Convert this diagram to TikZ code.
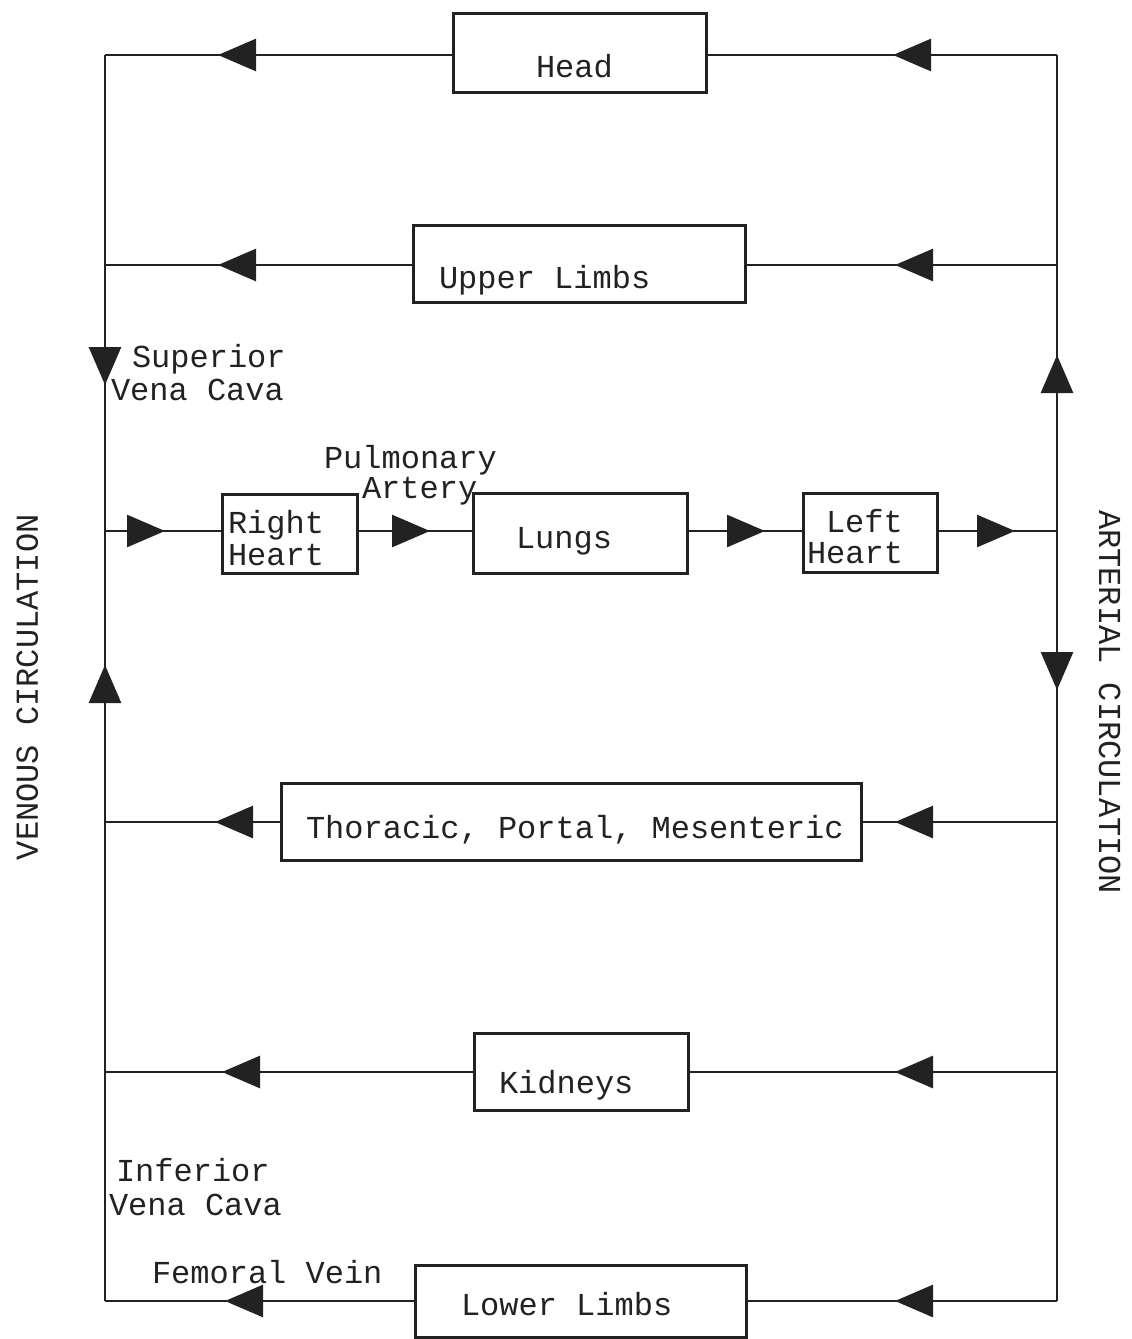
\documentclass[tikz,border=0pt]{standalone}
\usepackage{fontspec}
\setmainfont{Liberation Mono}
\usetikzlibrary{arrows.meta,decorations.markings}
\definecolor{ink}{HTML}{222222}
\tikzset{
  lbl/.style={inner sep=0pt, outer sep=0pt, anchor=base west, text=ink,
              font=\fontsize{16pt}{16pt}\selectfont},
  organ/.style={draw=ink, line width=1.5pt, inner sep=0pt, outer sep=0pt, rectangle},
  vessel/.style={draw=ink, line width=1.35pt},
  arr/.style={postaction={decorate, decoration={markings,
      mark=at position #1 with {\arrow[ink]{Triangle[length=19pt,width=16pt]}}}}},
}
\begin{document}
\begin{tikzpicture}[x=0.5pt,y=-0.5pt]
\useasboundingbox (0,0) rectangle (1131,1339);

% organ boxes
\node[organ, minimum width=126.5pt, minimum height=39.5pt] (head)  at (579.5,52.5) {};
\node[organ, minimum width=166pt,   minimum height=38.5pt] (ul)    at (579,263.5) {};
\node[organ, minimum width=67.5pt,  minimum height=39.5pt] (rh)    at (289.5,533.5) {};
\node[organ, minimum width=107pt,   minimum height=40pt]   (lungs) at (580,533) {};
\node[organ, minimum width=67pt,    minimum height=39.5pt] (lh)    at (870,532.5) {};
\node[organ, minimum width=290pt,   minimum height=38.5pt] (th)    at (571,821.5) {};
\node[organ, minimum width=107pt,   minimum height=38.5pt] (kid)   at (581,1071.5) {};
\node[organ, minimum width=165.5pt, minimum height=36pt]   (ll)    at (580.5,1301) {};

% junctions on the two trunks
\coordinate (L1) at (105,55);   \coordinate (R1) at (1057,55);
\coordinate (L2) at (105,265);  \coordinate (R2) at (1057,265);
\coordinate (Lm) at (105,531);  \coordinate (Rm) at (1057,531);
\coordinate (L3) at (105,822);  \coordinate (R3) at (1057,822);
\coordinate (L4) at (105,1072); \coordinate (R4) at (1057,1072);
\coordinate (L5) at (105,1301); \coordinate (R5) at (1057,1301);

% trunks
\draw[vessel, arr=165pt]   (L1) -- (Lm);
\draw[vessel, arr=318pt]   (L5) -- (Lm);
\draw[vessel, arr=88pt]    (Rm) -- (R1);
\draw[vessel, arr=79.5pt]  (Rm) -- (R5);

% head
\draw[vessel, arr=82pt]    (R1) -- (R1 -| head.east);
\draw[vessel, arr=117.5pt] (L1 -| head.west) -- (L1);
% upper limbs
\draw[vessel, arr=81pt]    (R2) -- (R2 -| ul.east);
\draw[vessel, arr=97.5pt]  (L2 -| ul.west) -- (L2);
% heart-lung row
\draw[vessel, arr=30pt]    (Lm) -- (Lm -| rh.west);
\draw[vessel, arr=36.5pt]  (Lm -| rh.east) -- (Lm -| lungs.west);
\draw[vessel, arr=39pt]    (Lm -| lungs.east) -- (Lm -| lh.west);
\draw[vessel, arr=39pt]    (Lm -| lh.east) -- (Rm);
% thoracic
\draw[vessel, arr=81pt]    (R3) -- (R3 -| th.east);
\draw[vessel, arr=33pt]    (L3 -| th.west) -- (L3);
% kidneys
\draw[vessel, arr=81pt]    (R4) -- (R4 -| kid.east);
\draw[vessel, arr=126pt]   (L4 -| kid.west) -- (L4);
% lower limbs
\draw[vessel, arr=81pt]    (R5) -- (R5 -| ll.east);
\draw[vessel, arr=95pt]    (L5 -| ll.west) -- (L5);

% texts
\node[lbl] (tHead)  at (536,77)   {Head};
\node[lbl] (tUL)    at (439,288)  {Upper Limbs};
\node[lbl] (tSup)   at (132,367)  {Superior};
\node[lbl] (tSupB)  at (111,400)  {Vena Cava};
\node[lbl] (tPul)   at (324,468)  {Pulmonary};
\node[lbl] (tArt)   at (362,498)  {Artery};
\node[lbl] (tRH)    at (228,533)  {Right};
\node[lbl] (tRHB)   at (228,565)  {Heart};
\node[lbl] (tLungs) at (516,548)  {Lungs};
\node[lbl] (tLH)    at (826,532)  {Left};
\node[lbl] (tLHB)   at (807,563)  {Heart};
\node[lbl] (tTh)    at (306,838)  {Thoracic, Portal, Mesenteric};
\node[lbl] (tKid)   at (499,1093) {Kidneys};
\node[lbl] (tInf)   at (116,1181) {Inferior};
\node[lbl] (tInfB)  at (109,1215) {Vena Cava};
\node[lbl] (tFem)   at (152,1283) {Femoral Vein};
\node[lbl] (tLL)    at (461,1315) {Lower Limbs};
\node[lbl, rotate=90]  (tVen) at (38,860)   {VENOUS CIRCULATION};
\node[lbl, rotate=-90] (tArtC) at (1099,510) {ARTERIAL CIRCULATION};
\end{tikzpicture}
\end{document}
